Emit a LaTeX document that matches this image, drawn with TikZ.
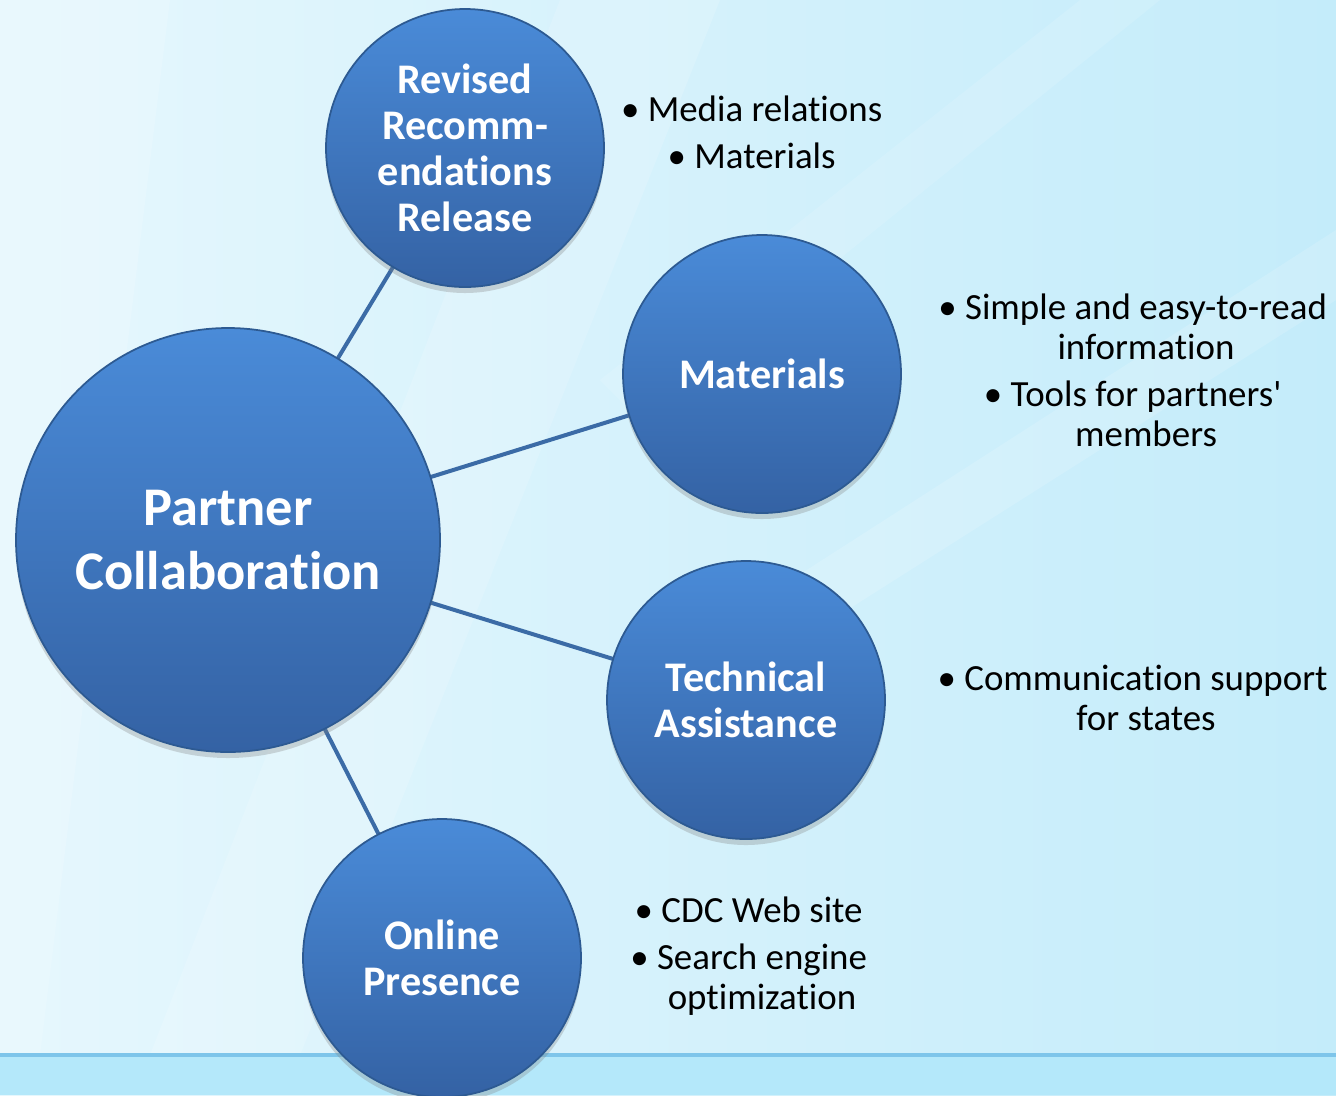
\documentclass[tikz,border=0pt]{standalone}
\usepackage{fontspec}
\setmainfont{Carlito}[Ligatures={NoCommon}]
\usetikzlibrary{backgrounds,shadows}

\definecolor{bgleft}{HTML}{E6F7FD}
\definecolor{bgright}{HTML}{C4ECFA}
\definecolor{bandcol}{HTML}{B4E8FA}
\definecolor{rulecol}{HTML}{7EC5EA}
\definecolor{balltop}{HTML}{4A8BD8}
\definecolor{ballbot}{HTML}{3462A4}
\definecolor{ballrim}{HTML}{2D5A92}
\definecolor{linkcol}{HTML}{3B6BA6}

\tikzset{
  bubble/.style={circle, draw=ballrim, line width=0.5pt,
    top color=balltop, bottom color=ballbot, text=white,
    font=\bfseries\fontsize{12}{13.1}\selectfont, align=center,
    minimum size=2.78cm, inner sep=0pt,
    drop shadow={opacity=0.3, shadow xshift=0pt, shadow yshift=-0.6mm}},
  hub/.style={bubble, minimum size=4.24cm,
    font=\bfseries\fontsize{15.5}{18.2}\selectfont},
  notes/.style={align=center, inner sep=0pt,
    font=\fontsize{10.5}{11.4}\selectfont},
  link/.style={draw=linkcol, line width=0.4mm}
}

\begin{document}
\begin{tikzpicture}[x=0.1mm, y=-0.1mm]
    \useasboundingbox (0,0) rectangle (1336,1095);
    \clip (0,0) rectangle (1336,1095);

    % bubbles
    \node[hub] (partner) at (228,540) {Partner\\Collaboration};
    \node[bubble] (revised) at (465,148) {Revised\\Recomm-\\endations\\Release};
    \node[bubble] (materials) at (762,374) {Materials};
    \node[bubble] (technical) at (746,700) {Technical\\Assistance};
    \node[bubble] (online) at (442,958) {Online\\Presence};

    % bullet notes
    \node[notes] (revisednotes) at (765,132)
      {\llap{\textbullet\ }Media relations\\[2pt]\llap{\textbullet\ }Materials};
    \node[notes] (materialsnotes) at (1146,370)
      {\llap{\textbullet\ }Simple and easy-to-read\\information\\[2pt]%
       \llap{\textbullet\ }Tools for partners\textquotesingle\\members};
    \node[notes] (technicalnotes) at (1146,698)
      {\llap{\textbullet\ }Communication support\\for states};
    \node[notes] (onlinenotes) at (762,956)
      {\llap{\textbullet\ }CDC Web site\\[2pt]\llap{\textbullet\ }Search engine\\optimization};

    \begin{scope}[on background layer]
      % backdrop
      \shade[left color=bgleft, right color=bgright] (0,0) rectangle (1336,1095);
      \fill[white, opacity=0.15] (0,0) -- (170,0) -- (40,1055) -- (0,1055) -- cycle;
      \fill[white, opacity=0.15] (560,0) -- (720,0) -- (300,1055) -- (150,1055) -- cycle;
      \fill[white, opacity=0.15] (1336,230) -- (1336,300) -- (800,640) -- (760,600) -- cycle;
      \fill[white, opacity=0.12] (1080,0) -- (1160,0) -- (640,420) -- (600,380) -- cycle;
      \fill[bandcol] (0,1055) rectangle (1336,1095);
      \draw[rulecol, line width=0.35mm] (0,1055) -- (1336,1055);
      % links
      \foreach \spoke in {revised, materials, technical, online}
        \draw[link] (partner.center) -- (\spoke.center);
    \end{scope}
\end{tikzpicture}
\end{document}
